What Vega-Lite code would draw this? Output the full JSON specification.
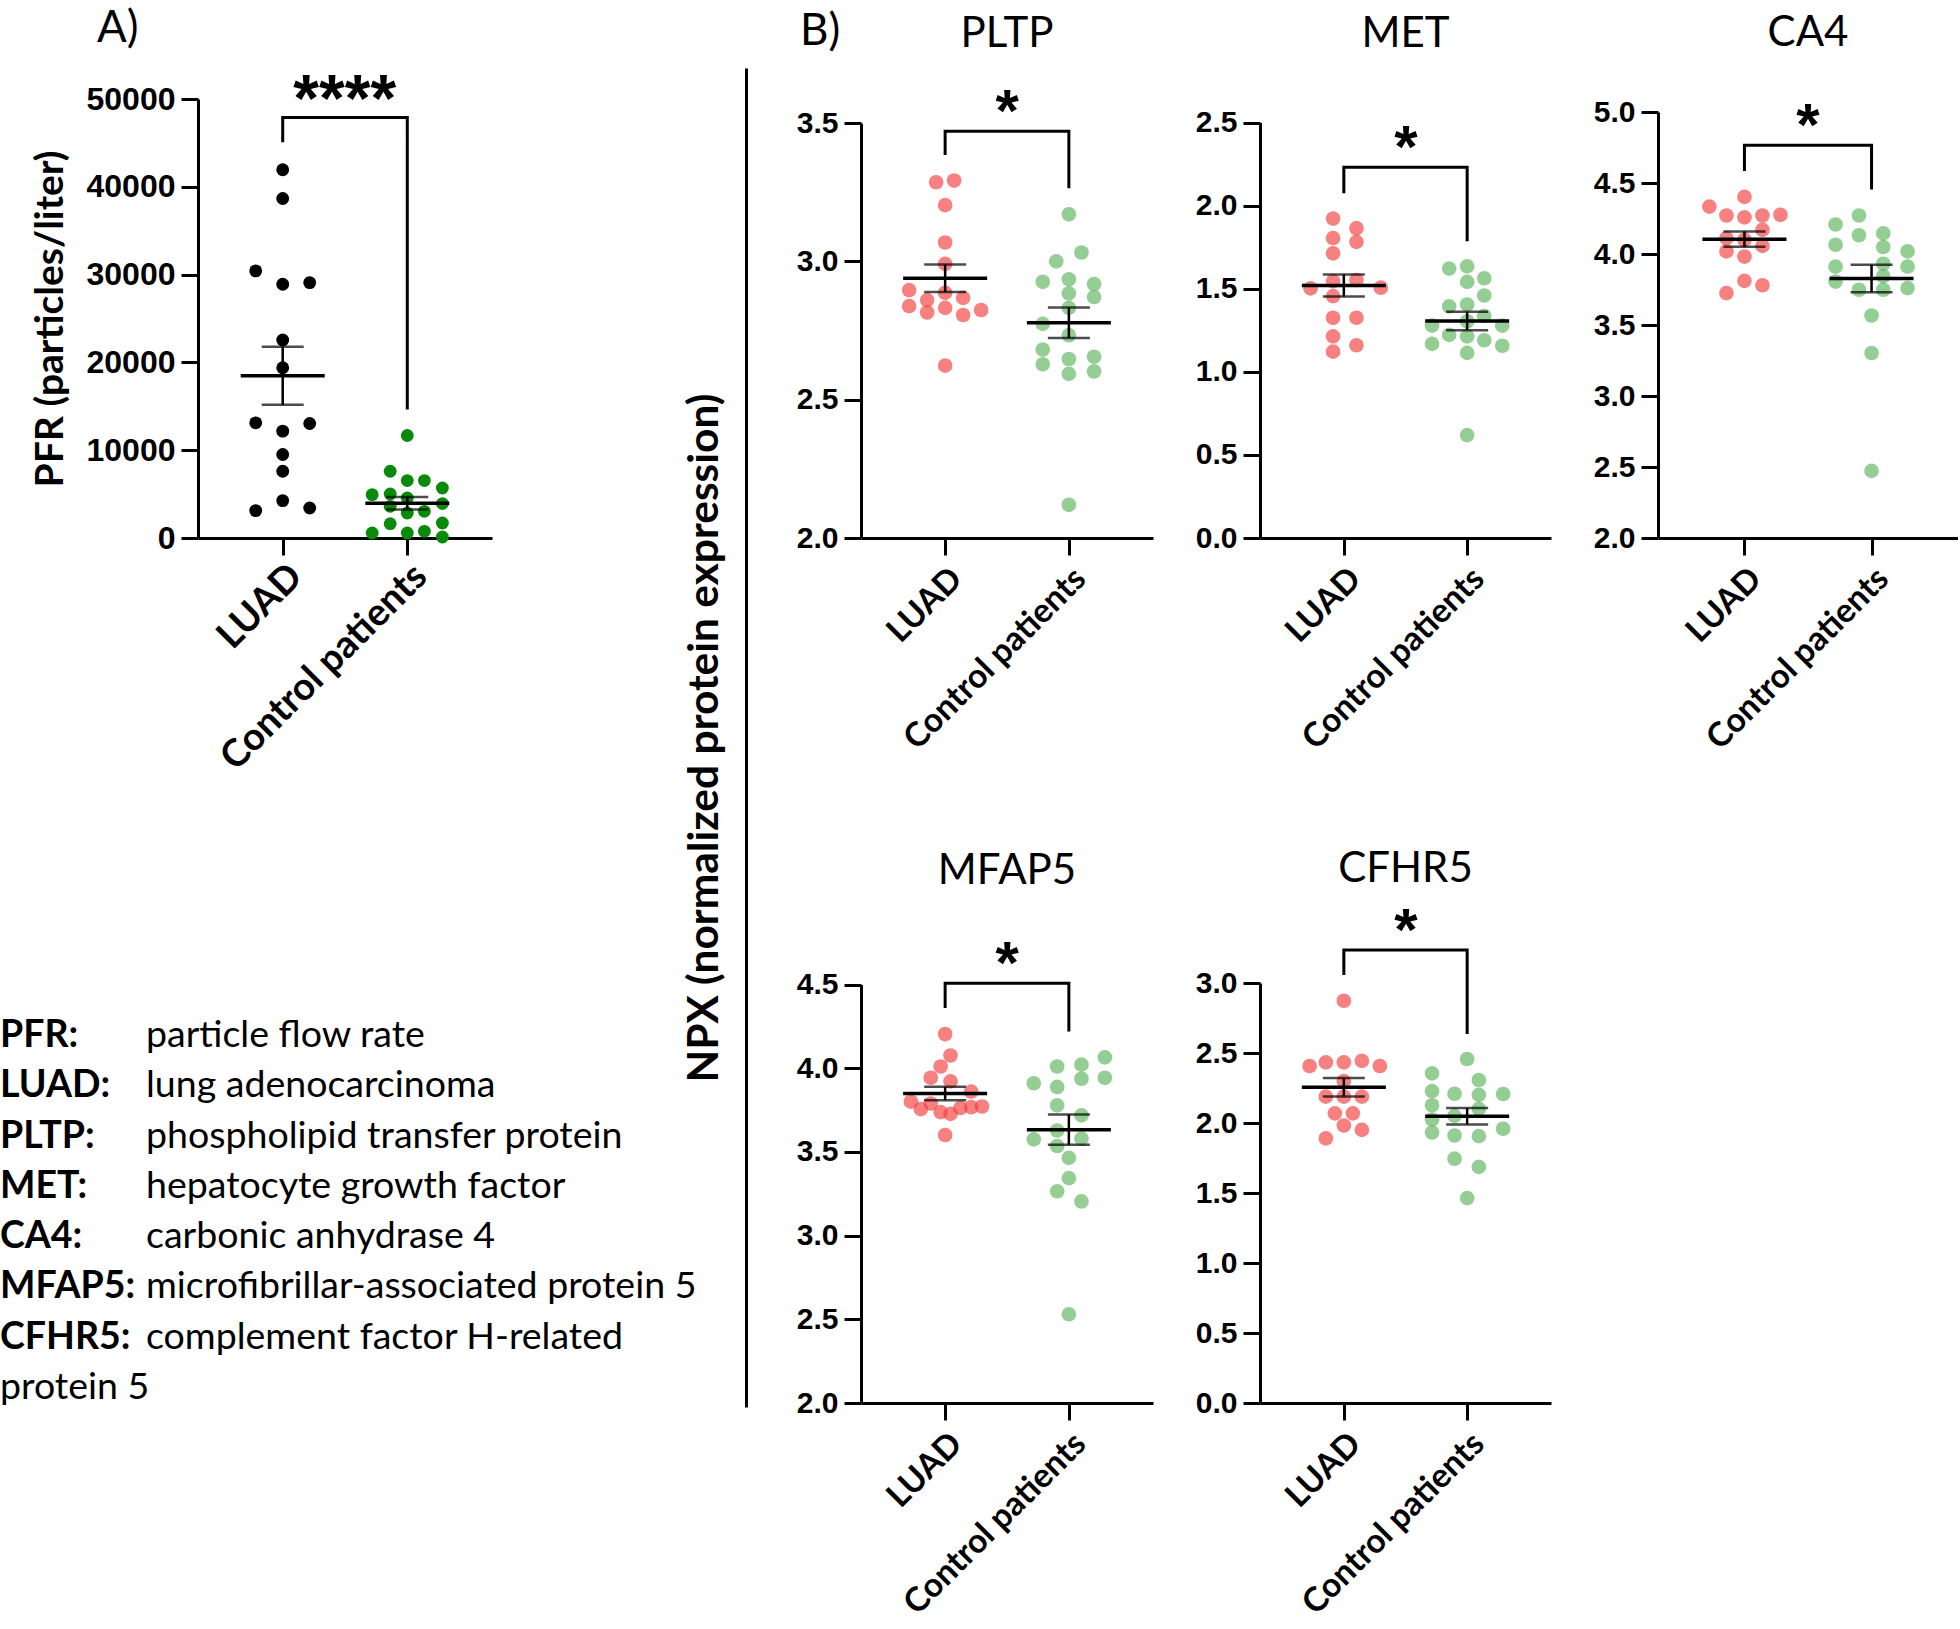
{
  "$schema": "https://vega.github.io/schema/vega-lite/v6.json",
  "padding": {"left": 0, "top": 7, "right": 0, "bottom": 0},
  "background": "white",
  "config": {
    "view": {"stroke": null},
    "axis": {"grid": false, "domainColor": "black", "tickColor": "black", "labelColor": "black", "titleColor": "black", "domainWidth": 3, "tickWidth": 3, "tickSize": 17},
    "title": {"font": "Lato", "fontSize": 42, "fontWeight": "normal", "color": "black", "frame": "group", "baseline": "alphabetic"}
  },
  "resolve": {"scale": {"color": "independent", "x": "independent", "y": "independent", "xOffset": "independent"}},
  "datasets": {
    "pts": [
      {"panel":"A","group":"LUAD","lane":0,"value":41940},{"panel":"A","group":"LUAD","lane":0,"value":38670},{"panel":"A","group":"LUAD","lane":-3,"value":30420},{"panel":"A","group":"LUAD","lane":0,"value":28900},{"panel":"A","group":"LUAD","lane":3,"value":29090},{"panel":"A","group":"LUAD","lane":0,"value":22550},{"panel":"A","group":"LUAD","lane":0,"value":19390},{"panel":"A","group":"LUAD","lane":-3,"value":13120},{"panel":"A","group":"LUAD","lane":0,"value":12170},{"panel":"A","group":"LUAD","lane":3,"value":13040},{"panel":"A","group":"LUAD","lane":0,"value":9510},{"panel":"A","group":"LUAD","lane":0,"value":7600},{"panel":"A","group":"LUAD","lane":0,"value":4260},{"panel":"A","group":"LUAD","lane":-3,"value":3120},{"panel":"A","group":"LUAD","lane":3,"value":3420},
      {"panel":"A","group":"Control patients","lane":0,"value":11670},{"panel":"A","group":"Control patients","lane":-1.9,"value":7600},{"panel":"A","group":"Control patients","lane":0,"value":6540},{"panel":"A","group":"Control patients","lane":1.9,"value":6540},{"panel":"A","group":"Control patients","lane":3.9,"value":5700},{"panel":"A","group":"Control patients","lane":-3.9,"value":4940},{"panel":"A","group":"Control patients","lane":-1.9,"value":5020},{"panel":"A","group":"Control patients","lane":0,"value":4560},{"panel":"A","group":"Control patients","lane":-1.9,"value":3610},{"panel":"A","group":"Control patients","lane":3.9,"value":3920},{"panel":"A","group":"Control patients","lane":0,"value":2850},{"panel":"A","group":"Control patients","lane":1.9,"value":3040},{"panel":"A","group":"Control patients","lane":-1.9,"value":1630},{"panel":"A","group":"Control patients","lane":3.9,"value":1710},{"panel":"A","group":"Control patients","lane":-3.9,"value":570},{"panel":"A","group":"Control patients","lane":0,"value":570},{"panel":"A","group":"Control patients","lane":1.9,"value":760},{"panel":"A","group":"Control patients","lane":3.9,"value":110},

      {"panel":"PLTP","group":"LUAD","lane":-1,"value":3.286},{"panel":"PLTP","group":"LUAD","lane":1,"value":3.292},{"panel":"PLTP","group":"LUAD","lane":0,"value":3.203},{"panel":"PLTP","group":"LUAD","lane":0,"value":3.068},{"panel":"PLTP","group":"LUAD","lane":0,"value":2.991},{"panel":"PLTP","group":"LUAD","lane":-4,"value":2.896},{"panel":"PLTP","group":"LUAD","lane":-2,"value":2.860},{"panel":"PLTP","group":"LUAD","lane":0,"value":2.886},{"panel":"PLTP","group":"LUAD","lane":2,"value":2.868},{"panel":"PLTP","group":"LUAD","lane":-4,"value":2.838},{"panel":"PLTP","group":"LUAD","lane":-2,"value":2.815},{"panel":"PLTP","group":"LUAD","lane":0,"value":2.832},{"panel":"PLTP","group":"LUAD","lane":2,"value":2.806},{"panel":"PLTP","group":"LUAD","lane":4,"value":2.824},{"panel":"PLTP","group":"LUAD","lane":0,"value":2.623},
      {"panel":"PLTP","group":"Control patients","lane":0,"value":3.170},{"panel":"PLTP","group":"Control patients","lane":1.4,"value":3.032},{"panel":"PLTP","group":"Control patients","lane":-1.4,"value":3.000},{"panel":"PLTP","group":"Control patients","lane":-2.9,"value":2.926},{"panel":"PLTP","group":"Control patients","lane":0,"value":2.935},{"panel":"PLTP","group":"Control patients","lane":2.8,"value":2.918},{"panel":"PLTP","group":"Control patients","lane":0,"value":2.884},{"panel":"PLTP","group":"Control patients","lane":2.8,"value":2.871},{"panel":"PLTP","group":"Control patients","lane":0,"value":2.832},{"panel":"PLTP","group":"Control patients","lane":-2.9,"value":2.774},{"panel":"PLTP","group":"Control patients","lane":0,"value":2.733},{"panel":"PLTP","group":"Control patients","lane":-2.9,"value":2.681},{"panel":"PLTP","group":"Control patients","lane":0,"value":2.647},{"panel":"PLTP","group":"Control patients","lane":2.8,"value":2.655},{"panel":"PLTP","group":"Control patients","lane":-2.9,"value":2.628},{"panel":"PLTP","group":"Control patients","lane":0,"value":2.593},{"panel":"PLTP","group":"Control patients","lane":2.8,"value":2.602},{"panel":"PLTP","group":"Control patients","lane":0,"value":2.120},

      {"panel":"MET","group":"LUAD","lane":-1.2,"value":1.922},{"panel":"MET","group":"LUAD","lane":1.4,"value":1.864},{"panel":"MET","group":"LUAD","lane":-1.2,"value":1.804},{"panel":"MET","group":"LUAD","lane":1.4,"value":1.782},{"panel":"MET","group":"LUAD","lane":-1.2,"value":1.713},{"panel":"MET","group":"LUAD","lane":-3.7,"value":1.502},{"panel":"MET","group":"LUAD","lane":-1.2,"value":1.545},{"panel":"MET","group":"LUAD","lane":1.4,"value":1.552},{"panel":"MET","group":"LUAD","lane":4.1,"value":1.506},{"panel":"MET","group":"LUAD","lane":-1.2,"value":1.455},{"panel":"MET","group":"LUAD","lane":-1.2,"value":1.325},{"panel":"MET","group":"LUAD","lane":1.4,"value":1.325},{"panel":"MET","group":"LUAD","lane":-1.2,"value":1.213},{"panel":"MET","group":"LUAD","lane":1.4,"value":1.160},{"panel":"MET","group":"LUAD","lane":-1.2,"value":1.121},
      {"panel":"MET","group":"Control patients","lane":-2,"value":1.621},{"panel":"MET","group":"Control patients","lane":0,"value":1.634},{"panel":"MET","group":"Control patients","lane":1.9,"value":1.563},{"panel":"MET","group":"Control patients","lane":0,"value":1.541},{"panel":"MET","group":"Control patients","lane":1.9,"value":1.459},{"panel":"MET","group":"Control patients","lane":-2,"value":1.394},{"panel":"MET","group":"Control patients","lane":0,"value":1.405},{"panel":"MET","group":"Control patients","lane":1.9,"value":1.336},{"panel":"MET","group":"Control patients","lane":-3.9,"value":1.278},{"panel":"MET","group":"Control patients","lane":0,"value":1.304},{"panel":"MET","group":"Control patients","lane":3.9,"value":1.278},{"panel":"MET","group":"Control patients","lane":-2,"value":1.222},{"panel":"MET","group":"Control patients","lane":0,"value":1.213},{"panel":"MET","group":"Control patients","lane":-3.9,"value":1.168},{"panel":"MET","group":"Control patients","lane":1.9,"value":1.190},{"panel":"MET","group":"Control patients","lane":3.9,"value":1.157},{"panel":"MET","group":"Control patients","lane":0,"value":1.114},{"panel":"MET","group":"Control patients","lane":0,"value":0.619},

      {"panel":"CA4","group":"LUAD","lane":0,"value":4.402},{"panel":"CA4","group":"LUAD","lane":-3.9,"value":4.334},{"panel":"CA4","group":"LUAD","lane":-2,"value":4.271},{"panel":"CA4","group":"LUAD","lane":0,"value":4.258},{"panel":"CA4","group":"LUAD","lane":2,"value":4.271},{"panel":"CA4","group":"LUAD","lane":4,"value":4.276},{"panel":"CA4","group":"LUAD","lane":2,"value":4.170},{"panel":"CA4","group":"LUAD","lane":-2,"value":4.112},{"panel":"CA4","group":"LUAD","lane":0,"value":4.100},{"panel":"CA4","group":"LUAD","lane":2,"value":4.057},{"panel":"CA4","group":"LUAD","lane":-2,"value":4.019},{"panel":"CA4","group":"LUAD","lane":0,"value":3.982},{"panel":"CA4","group":"LUAD","lane":0,"value":3.811},{"panel":"CA4","group":"LUAD","lane":2,"value":3.780},{"panel":"CA4","group":"LUAD","lane":-2,"value":3.725},
      {"panel":"CA4","group":"Control patients","lane":-1.4,"value":4.271},{"panel":"CA4","group":"Control patients","lane":-4,"value":4.208},{"panel":"CA4","group":"Control patients","lane":-1.4,"value":4.132},{"panel":"CA4","group":"Control patients","lane":1.3,"value":4.145},{"panel":"CA4","group":"Control patients","lane":-4,"value":4.065},{"panel":"CA4","group":"Control patients","lane":1.3,"value":4.049},{"panel":"CA4","group":"Control patients","lane":4,"value":4.019},{"panel":"CA4","group":"Control patients","lane":-4,"value":3.911},{"panel":"CA4","group":"Control patients","lane":1.3,"value":3.931},{"panel":"CA4","group":"Control patients","lane":4,"value":3.911},{"panel":"CA4","group":"Control patients","lane":1.3,"value":3.843},{"panel":"CA4","group":"Control patients","lane":-4,"value":3.806},{"panel":"CA4","group":"Control patients","lane":-1.4,"value":3.748},{"panel":"CA4","group":"Control patients","lane":1.3,"value":3.748},{"panel":"CA4","group":"Control patients","lane":4,"value":3.760},{"panel":"CA4","group":"Control patients","lane":0,"value":3.567},{"panel":"CA4","group":"Control patients","lane":0,"value":3.303},{"panel":"CA4","group":"Control patients","lane":0,"value":2.473},

      {"panel":"MFAP5","group":"LUAD","lane":0,"value":4.204},{"panel":"MFAP5","group":"LUAD","lane":0.6,"value":4.076},{"panel":"MFAP5","group":"LUAD","lane":-0.5,"value":4.010},{"panel":"MFAP5","group":"LUAD","lane":-1.6,"value":3.943},{"panel":"MFAP5","group":"LUAD","lane":0.6,"value":3.921},{"panel":"MFAP5","group":"LUAD","lane":2.9,"value":3.860},{"panel":"MFAP5","group":"LUAD","lane":-3.8,"value":3.800},{"panel":"MFAP5","group":"LUAD","lane":-1.6,"value":3.789},{"panel":"MFAP5","group":"LUAD","lane":-2.7,"value":3.756},{"panel":"MFAP5","group":"LUAD","lane":-0.5,"value":3.738},{"panel":"MFAP5","group":"LUAD","lane":0.6,"value":3.727},{"panel":"MFAP5","group":"LUAD","lane":1.7,"value":3.762},{"panel":"MFAP5","group":"LUAD","lane":2.9,"value":3.767},{"panel":"MFAP5","group":"LUAD","lane":4.1,"value":3.771},{"panel":"MFAP5","group":"LUAD","lane":0,"value":3.601},
      {"panel":"MFAP5","group":"Control patients","lane":4,"value":4.065},{"panel":"MFAP5","group":"Control patients","lane":-1.3,"value":4.010},{"panel":"MFAP5","group":"Control patients","lane":1.4,"value":4.021},{"panel":"MFAP5","group":"Control patients","lane":1.4,"value":3.937},{"panel":"MFAP5","group":"Control patients","lane":4,"value":3.943},{"panel":"MFAP5","group":"Control patients","lane":-3.9,"value":3.910},{"panel":"MFAP5","group":"Control patients","lane":-1.3,"value":3.888},{"panel":"MFAP5","group":"Control patients","lane":-1.3,"value":3.778},{"panel":"MFAP5","group":"Control patients","lane":1.4,"value":3.718},{"panel":"MFAP5","group":"Control patients","lane":-1.3,"value":3.628},{"panel":"MFAP5","group":"Control patients","lane":-3.9,"value":3.575},{"panel":"MFAP5","group":"Control patients","lane":1.4,"value":3.579},{"panel":"MFAP5","group":"Control patients","lane":-1.3,"value":3.535},{"panel":"MFAP5","group":"Control patients","lane":0,"value":3.464},{"panel":"MFAP5","group":"Control patients","lane":0,"value":3.343},{"panel":"MFAP5","group":"Control patients","lane":-1.3,"value":3.265},{"panel":"MFAP5","group":"Control patients","lane":1.4,"value":3.204},{"panel":"MFAP5","group":"Control patients","lane":0,"value":2.530},

      {"panel":"CFHR5","group":"LUAD","lane":0,"value":2.873},{"panel":"CFHR5","group":"LUAD","lane":-2,"value":2.433},{"panel":"CFHR5","group":"LUAD","lane":0,"value":2.433},{"panel":"CFHR5","group":"LUAD","lane":2,"value":2.444},{"panel":"CFHR5","group":"LUAD","lane":-3.8,"value":2.407},{"panel":"CFHR5","group":"LUAD","lane":4,"value":2.407},{"panel":"CFHR5","group":"LUAD","lane":0,"value":2.299},{"panel":"CFHR5","group":"LUAD","lane":-2,"value":2.188},{"panel":"CFHR5","group":"LUAD","lane":0,"value":2.188},{"panel":"CFHR5","group":"LUAD","lane":2,"value":2.188},{"panel":"CFHR5","group":"LUAD","lane":-1,"value":2.069},{"panel":"CFHR5","group":"LUAD","lane":1,"value":2.069},{"panel":"CFHR5","group":"LUAD","lane":0,"value":1.982},{"panel":"CFHR5","group":"LUAD","lane":2,"value":1.951},{"panel":"CFHR5","group":"LUAD","lane":-2,"value":1.890},
      {"panel":"CFHR5","group":"Control patients","lane":0,"value":2.457},{"panel":"CFHR5","group":"Control patients","lane":-3.9,"value":2.354},{"panel":"CFHR5","group":"Control patients","lane":1.3,"value":2.307},{"panel":"CFHR5","group":"Control patients","lane":-3.9,"value":2.228},{"panel":"CFHR5","group":"Control patients","lane":-1.4,"value":2.209},{"panel":"CFHR5","group":"Control patients","lane":1.3,"value":2.201},{"panel":"CFHR5","group":"Control patients","lane":4,"value":2.207},{"panel":"CFHR5","group":"Control patients","lane":-3.9,"value":2.127},{"panel":"CFHR5","group":"Control patients","lane":1.3,"value":2.101},{"panel":"CFHR5","group":"Control patients","lane":-1.4,"value":2.051},{"panel":"CFHR5","group":"Control patients","lane":-3.9,"value":2.025},{"panel":"CFHR5","group":"Control patients","lane":4,"value":1.959},{"panel":"CFHR5","group":"Control patients","lane":-3.9,"value":1.932},{"panel":"CFHR5","group":"Control patients","lane":-1.4,"value":1.911},{"panel":"CFHR5","group":"Control patients","lane":1.3,"value":1.906},{"panel":"CFHR5","group":"Control patients","lane":-1.4,"value":1.745},{"panel":"CFHR5","group":"Control patients","lane":1.3,"value":1.687},{"panel":"CFHR5","group":"Control patients","lane":0,"value":1.463}
    ],
    "brk": [
      {"panel":"A","group":"LUAD","value":45060,"k":1},{"panel":"A","group":"LUAD","value":47900,"k":2},{"panel":"A","group":"Control patients","value":47900,"k":3},{"panel":"A","group":"Control patients","value":14640,"k":4},
      {"panel":"PLTP","group":"LUAD","value":3.384,"k":1},{"panel":"PLTP","group":"LUAD","value":3.470,"k":2},{"panel":"PLTP","group":"Control patients","value":3.470,"k":3},{"panel":"PLTP","group":"Control patients","value":3.264,"k":4},
      {"panel":"MET","group":"LUAD","value":2.075,"k":1},{"panel":"MET","group":"LUAD","value":2.231,"k":2},{"panel":"MET","group":"Control patients","value":2.231,"k":3},{"panel":"MET","group":"Control patients","value":1.785,"k":4},
      {"panel":"CA4","group":"LUAD","value":4.585,"k":1},{"panel":"CA4","group":"LUAD","value":4.766,"k":2},{"panel":"CA4","group":"Control patients","value":4.766,"k":3},{"panel":"CA4","group":"Control patients","value":4.454,"k":4},
      {"panel":"MFAP5","group":"LUAD","value":4.359,"k":1},{"panel":"MFAP5","group":"LUAD","value":4.507,"k":2},{"panel":"MFAP5","group":"Control patients","value":4.507,"k":3},{"panel":"MFAP5","group":"Control patients","value":4.219,"k":4},
      {"panel":"CFHR5","group":"LUAD","value":3.058,"k":1},{"panel":"CFHR5","group":"LUAD","value":3.235,"k":2},{"panel":"CFHR5","group":"Control patients","value":3.235,"k":3},{"panel":"CFHR5","group":"Control patients","value":2.636,"k":4}
    ],
    "sig": [
      {"panel":"A","group":"LUAD","value":47900,"label":"****"},
      {"panel":"PLTP","group":"LUAD","value":3.470,"label":"*"},
      {"panel":"MET","group":"LUAD","value":2.231,"label":"*"},
      {"panel":"CA4","group":"LUAD","value":4.766,"label":"*"},
      {"panel":"MFAP5","group":"LUAD","value":4.507,"label":"*"},
      {"panel":"CFHR5","group":"LUAD","value":3.235,"label":"*"}
    ],
    "glossary": [
      {"line":1,"col":"left","kind":"term","text":"PFR:"},{"line":1,"col":"right","kind":"definition","text":"particle flow rate"},
      {"line":2,"col":"left","kind":"term","text":"LUAD:"},{"line":2,"col":"right","kind":"definition","text":"lung adenocarcinoma"},
      {"line":3,"col":"left","kind":"term","text":"PLTP:"},{"line":3,"col":"right","kind":"definition","text":"phospholipid transfer protein"},
      {"line":4,"col":"left","kind":"term","text":"MET:"},{"line":4,"col":"right","kind":"definition","text":"hepatocyte growth factor"},
      {"line":5,"col":"left","kind":"term","text":"CA4:"},{"line":5,"col":"right","kind":"definition","text":"carbonic anhydrase 4"},
      {"line":6,"col":"left","kind":"term","text":"MFAP5:"},{"line":6,"col":"right","kind":"definition","text":"microfibrillar-associated protein 5"},
      {"line":7,"col":"left","kind":"term","text":"CFHR5:"},{"line":7,"col":"right","kind":"definition","text":"complement factor H-related"},
      {"line":8,"col":"left","kind":"definition","text":"protein 5"}
    ]
  },
  "columns": 5,
  "align": "each",
  "bounds": "flush",
  "spacing": {"row": 445, "column": 107},
  "concat": [
    {
      "width": 294, "height": 439,
      "title": {"text": "A)", "anchor": "start", "dx": -101, "offset": 16.7, "fontSize": 44},
      "encoding": {
        "x": {"field": "group", "type": "nominal", "scale": {"type": "point", "domain": ["LUAD", "Control patients"], "padding": 0.68},
              "axis": {"title": null, "labelAngle": -45, "labelAlign": "right", "labelBaseline": "top", "labelFont": "Lato", "labelFontWeight": "bold", "labelFontSize": 38, "labelPadding": 2, "labelLimit": 600, "labelOverlap": false}},
        "y": {"field": "value", "type": "quantitative", "scale": {"domain": [0, 50000], "nice": false, "zero": false},
              "axis": {"title": "PFR (particles/liter)", "values": [0, 10000, 20000, 30000, 40000, 50000], "format": "d", "labelFont": "Liberation Sans", "labelFontWeight": "bold", "labelFontSize": 32, "labelPadding": 6, "titleFont": "Lato", "titleFontWeight": "bold", "titleFontSize": 39, "titlePadding": 16}}
      },
      "layer": [
        {"data": {"name": "pts"}, "transform": [{"filter": "datum.panel === 'A'"}],
         "mark": {"type": "circle", "size": 165, "opacity": 1},
         "encoding": {"xOffset": {"field": "lane", "type": "quantitative", "scale": {"domain": [-4, 4], "range": [-36, 36]}},
                      "color": {"field": "group", "type": "nominal", "scale": {"domain": ["LUAD", "Control patients"], "range": ["#000000", "#0a8a0a"]}, "legend": null}}},
        {"data": {"name": "pts"}, "transform": [{"filter": "datum.panel === 'A'"}],
         "mark": {"type": "errorbar", "extent": "stderr", "color": "black", "thickness": 2.5, "ticks": {"size": 42, "color": "black"}}},
        {"data": {"name": "pts"}, "transform": [{"filter": "datum.panel === 'A'"}, {"aggregate": [{"op": "mean", "field": "value", "as": "value"}], "groupby": ["group"]}],
         "mark": {"type": "tick", "color": "black", "size": 84, "thickness": 3.5, "opacity": 1}},
        {"data": {"name": "brk"}, "transform": [{"filter": "datum.panel === 'A'"}],
         "mark": {"type": "line", "color": "black", "strokeWidth": 3}, "encoding": {"order": {"field": "k", "type": "quantitative"}}},
        {"data": {"name": "sig"}, "transform": [{"filter": "datum.panel === 'A'"}],
         "mark": {"type": "text", "font": "Liberation Sans", "fontWeight": "bold", "fontSize": 66, "dx": 62, "dy": 3.5, "baseline": "alphabetic", "align": "center", "color": "black"},
         "encoding": {"text": {"field": "label"}}}
      ]
    },
    {
      "width": 8, "height": 439,
      "data": {"values": [{"npx": 0.5}]},
      "title": {"text": "B)", "anchor": "start", "dx": 54, "offset": 45.5, "fontSize": 44},
      "mark": {"type": "point", "opacity": 0},
      "encoding": {
        "y": {"field": "npx", "type": "quantitative", "scale": {"domain": [0, 1], "range": [1308, -31], "nice": false, "zero": false},
              "axis": {"title": "NPX (normalized protein expression)", "ticks": false, "labels": false, "domainWidth": 3, "titleFont": "Lato", "titleFontWeight": "bold", "titleFontSize": 42.5, "titlePadding": 20}}
      }
    },
    {
      "width": 292, "height": 439,
      "title": {"text": "PLTP", "offset": 27},
      "encoding": {
        "x": {"field": "group", "type": "nominal", "scale": {"type": "point", "domain": ["LUAD", "Control patients"], "padding": 0.68},
              "axis": {"title": null, "labelAngle": -45, "labelAlign": "right", "labelBaseline": "top", "labelFont": "Lato", "labelFontWeight": "bold", "labelFontSize": 33.5, "labelPadding": 7, "labelLimit": 600, "labelOverlap": false}},
        "y": {"field": "value", "type": "quantitative", "scale": {"domain": [2, 3.5], "range": [439, 24], "nice": false, "zero": false},
              "axis": {"title": null, "values": [2, 2.5, 3, 3.5], "format": ".1f", "labelFont": "Liberation Sans", "labelFontWeight": "bold", "labelFontSize": 30, "labelPadding": 6}}
      },
      "layer": [
        {"data": {"name": "pts"}, "transform": [{"filter": "datum.panel === 'PLTP'"}],
         "mark": {"type": "circle", "size": 215, "opacity": 0.65},
         "encoding": {"xOffset": {"field": "lane", "type": "quantitative", "scale": {"domain": [-4, 4], "range": [-36, 36]}},
                      "color": {"field": "group", "type": "nominal", "scale": {"domain": ["LUAD", "Control patients"], "range": ["#f23c3c", "#5ab45a"]}, "legend": null}}},
        {"data": {"name": "pts"}, "transform": [{"filter": "datum.panel === 'PLTP'"}],
         "mark": {"type": "errorbar", "extent": "stderr", "color": "black", "thickness": 2.5, "ticks": {"size": 42, "color": "black"}}},
        {"data": {"name": "pts"}, "transform": [{"filter": "datum.panel === 'PLTP'"}, {"aggregate": [{"op": "mean", "field": "value", "as": "value"}], "groupby": ["group"]}],
         "mark": {"type": "tick", "color": "black", "size": 84, "thickness": 3.5, "opacity": 1}},
        {"data": {"name": "brk"}, "transform": [{"filter": "datum.panel === 'PLTP'"}],
         "mark": {"type": "line", "color": "black", "strokeWidth": 3}, "encoding": {"order": {"field": "k", "type": "quantitative"}}},
        {"data": {"name": "sig"}, "transform": [{"filter": "datum.panel === 'PLTP'"}],
         "mark": {"type": "text", "font": "Liberation Sans", "fontWeight": "bold", "fontSize": 60, "dx": 62, "dy": 0, "baseline": "alphabetic", "align": "center", "color": "black"},
         "encoding": {"text": {"field": "label"}}}
      ]
    },
    {
      "width": 291, "height": 439,
      "title": {"text": "MET", "offset": 43.5},
      "encoding": {
        "x": {"field": "group", "type": "nominal", "scale": {"type": "point", "domain": ["LUAD", "Control patients"], "padding": 0.68},
              "axis": {"title": null, "labelAngle": -45, "labelAlign": "right", "labelBaseline": "top", "labelFont": "Lato", "labelFontWeight": "bold", "labelFontSize": 33.5, "labelPadding": 7, "labelLimit": 600, "labelOverlap": false}},
        "y": {"field": "value", "type": "quantitative", "scale": {"domain": [0, 2.5], "range": [439, 23.5], "nice": false, "zero": false},
              "axis": {"title": null, "values": [0, 0.5, 1, 1.5, 2, 2.5], "format": ".1f", "labelFont": "Liberation Sans", "labelFontWeight": "bold", "labelFontSize": 30, "labelPadding": 6}}
      },
      "layer": [
        {"data": {"name": "pts"}, "transform": [{"filter": "datum.panel === 'MET'"}],
         "mark": {"type": "circle", "size": 215, "opacity": 0.65},
         "encoding": {"xOffset": {"field": "lane", "type": "quantitative", "scale": {"domain": [-4, 4], "range": [-36, 36]}},
                      "color": {"field": "group", "type": "nominal", "scale": {"domain": ["LUAD", "Control patients"], "range": ["#f23c3c", "#5ab45a"]}, "legend": null}}},
        {"data": {"name": "pts"}, "transform": [{"filter": "datum.panel === 'MET'"}],
         "mark": {"type": "errorbar", "extent": "stderr", "color": "black", "thickness": 2.5, "ticks": {"size": 42, "color": "black"}}},
        {"data": {"name": "pts"}, "transform": [{"filter": "datum.panel === 'MET'"}, {"aggregate": [{"op": "mean", "field": "value", "as": "value"}], "groupby": ["group"]}],
         "mark": {"type": "tick", "color": "black", "size": 84, "thickness": 3.5, "opacity": 1}},
        {"data": {"name": "brk"}, "transform": [{"filter": "datum.panel === 'MET'"}],
         "mark": {"type": "line", "color": "black", "strokeWidth": 3}, "encoding": {"order": {"field": "k", "type": "quantitative"}}},
        {"data": {"name": "sig"}, "transform": [{"filter": "datum.panel === 'MET'"}],
         "mark": {"type": "text", "font": "Liberation Sans", "fontWeight": "bold", "fontSize": 60, "dx": 62, "dy": 0, "baseline": "alphabetic", "align": "center", "color": "black"},
         "encoding": {"text": {"field": "label"}}}
      ]
    },
    {
      "width": 300, "height": 439,
      "title": {"text": "CA4", "offset": 42},
      "encoding": {
        "x": {"field": "group", "type": "nominal", "scale": {"type": "point", "domain": ["LUAD", "Control patients"], "padding": 0.68},
              "axis": {"title": null, "labelAngle": -45, "labelAlign": "right", "labelBaseline": "top", "labelFont": "Lato", "labelFontWeight": "bold", "labelFontSize": 33.5, "labelPadding": 7, "labelLimit": 600, "labelOverlap": false}},
        "y": {"field": "value", "type": "quantitative", "scale": {"domain": [2, 5], "range": [439, 13], "nice": false, "zero": false},
              "axis": {"title": null, "values": [2, 2.5, 3, 3.5, 4, 4.5, 5], "format": ".1f", "labelFont": "Liberation Sans", "labelFontWeight": "bold", "labelFontSize": 30, "labelPadding": 6}}
      },
      "layer": [
        {"data": {"name": "pts"}, "transform": [{"filter": "datum.panel === 'CA4'"}],
         "mark": {"type": "circle", "size": 215, "opacity": 0.65},
         "encoding": {"xOffset": {"field": "lane", "type": "quantitative", "scale": {"domain": [-4, 4], "range": [-36, 36]}},
                      "color": {"field": "group", "type": "nominal", "scale": {"domain": ["LUAD", "Control patients"], "range": ["#f23c3c", "#5ab45a"]}, "legend": null}}},
        {"data": {"name": "pts"}, "transform": [{"filter": "datum.panel === 'CA4'"}],
         "mark": {"type": "errorbar", "extent": "stderr", "color": "black", "thickness": 2.5, "ticks": {"size": 42, "color": "black"}}},
        {"data": {"name": "pts"}, "transform": [{"filter": "datum.panel === 'CA4'"}, {"aggregate": [{"op": "mean", "field": "value", "as": "value"}], "groupby": ["group"]}],
         "mark": {"type": "tick", "color": "black", "size": 84, "thickness": 3.5, "opacity": 1}},
        {"data": {"name": "brk"}, "transform": [{"filter": "datum.panel === 'CA4'"}],
         "mark": {"type": "line", "color": "black", "strokeWidth": 3}, "encoding": {"order": {"field": "k", "type": "quantitative"}}},
        {"data": {"name": "sig"}, "transform": [{"filter": "datum.panel === 'CA4'"}],
         "mark": {"type": "text", "font": "Liberation Sans", "fontWeight": "bold", "fontSize": 60, "dx": 63.5, "dy": 0, "baseline": "alphabetic", "align": "center", "color": "black"},
         "encoding": {"text": {"field": "label"}}}
      ]
    },
    {
      "width": 441, "height": 420,
      "data": {"name": "glossary"},
      "encoding": {
        "x": {"field": "col", "type": "nominal", "scale": {"type": "point", "domain": ["left", "right"], "range": [-198, -52], "padding": 0}, "axis": null},
        "y": {"field": "line", "type": "ordinal", "scale": {"type": "point", "domain": [1, 2, 3, 4, 5, 6, 7, 8], "range": [53, 405], "padding": 0}, "axis": null},
        "text": {"field": "text"}
      },
      "layer": [
        {"transform": [{"filter": "datum.kind === 'term'"}], "mark": {"type": "text", "align": "left", "baseline": "middle", "font": "Lato", "fontWeight": "bold", "fontSize": 37.5, "color": "black"}},
        {"transform": [{"filter": "datum.kind === 'definition'"}], "mark": {"type": "text", "align": "left", "baseline": "middle", "font": "Lato", "fontWeight": "normal", "fontSize": 37.5, "color": "black"}}
      ]
    },
    {
      "width": 8, "height": 10,
      "data": {"values": []},
      "mark": "point"
    },
    {
      "width": 292, "height": 420,
      "title": {"text": "MFAP5", "offset": 42},
      "encoding": {
        "x": {"field": "group", "type": "nominal", "scale": {"type": "point", "domain": ["LUAD", "Control patients"], "padding": 0.68},
              "axis": {"title": null, "labelAngle": -45, "labelAlign": "right", "labelBaseline": "top", "labelFont": "Lato", "labelFontWeight": "bold", "labelFontSize": 33.5, "labelPadding": 7, "labelLimit": 600, "labelOverlap": false}},
        "y": {"field": "value", "type": "quantitative", "scale": {"domain": [2, 4.5], "range": [420, 1.5], "nice": false, "zero": false},
              "axis": {"title": null, "values": [2, 2.5, 3, 3.5, 4, 4.5], "format": ".1f", "labelFont": "Liberation Sans", "labelFontWeight": "bold", "labelFontSize": 30, "labelPadding": 6}}
      },
      "layer": [
        {"data": {"name": "pts"}, "transform": [{"filter": "datum.panel === 'MFAP5'"}],
         "mark": {"type": "circle", "size": 215, "opacity": 0.65},
         "encoding": {"xOffset": {"field": "lane", "type": "quantitative", "scale": {"domain": [-4, 4], "range": [-36, 36]}},
                      "color": {"field": "group", "type": "nominal", "scale": {"domain": ["LUAD", "Control patients"], "range": ["#f23c3c", "#5ab45a"]}, "legend": null}}},
        {"data": {"name": "pts"}, "transform": [{"filter": "datum.panel === 'MFAP5'"}],
         "mark": {"type": "errorbar", "extent": "stderr", "color": "black", "thickness": 2.5, "ticks": {"size": 42, "color": "black"}}},
        {"data": {"name": "pts"}, "transform": [{"filter": "datum.panel === 'MFAP5'"}, {"aggregate": [{"op": "mean", "field": "value", "as": "value"}], "groupby": ["group"]}],
         "mark": {"type": "tick", "color": "black", "size": 84, "thickness": 3.5, "opacity": 1}},
        {"data": {"name": "brk"}, "transform": [{"filter": "datum.panel === 'MFAP5'"}],
         "mark": {"type": "line", "color": "black", "strokeWidth": 3}, "encoding": {"order": {"field": "k", "type": "quantitative"}}},
        {"data": {"name": "sig"}, "transform": [{"filter": "datum.panel === 'MFAP5'"}],
         "mark": {"type": "text", "font": "Liberation Sans", "fontWeight": "bold", "fontSize": 60, "dx": 62, "dy": 0, "baseline": "alphabetic", "align": "center", "color": "black"},
         "encoding": {"text": {"field": "label"}}}
      ]
    },
    {
      "width": 291, "height": 420,
      "title": {"text": "CFHR5", "offset": 11},
      "encoding": {
        "x": {"field": "group", "type": "nominal", "scale": {"type": "point", "domain": ["LUAD", "Control patients"], "padding": 0.68},
              "axis": {"title": null, "labelAngle": -45, "labelAlign": "right", "labelBaseline": "top", "labelFont": "Lato", "labelFontWeight": "bold", "labelFontSize": 33.5, "labelPadding": 7, "labelLimit": 600, "labelOverlap": false}},
        "y": {"field": "value", "type": "quantitative", "scale": {"domain": [0, 3], "nice": false, "zero": false},
              "axis": {"title": null, "values": [0, 0.5, 1, 1.5, 2, 2.5, 3], "format": ".1f", "labelFont": "Liberation Sans", "labelFontWeight": "bold", "labelFontSize": 30, "labelPadding": 6}}
      },
      "layer": [
        {"data": {"name": "pts"}, "transform": [{"filter": "datum.panel === 'CFHR5'"}],
         "mark": {"type": "circle", "size": 215, "opacity": 0.65},
         "encoding": {"xOffset": {"field": "lane", "type": "quantitative", "scale": {"domain": [-4, 4], "range": [-36, 36]}},
                      "color": {"field": "group", "type": "nominal", "scale": {"domain": ["LUAD", "Control patients"], "range": ["#f23c3c", "#5ab45a"]}, "legend": null}}},
        {"data": {"name": "pts"}, "transform": [{"filter": "datum.panel === 'CFHR5'"}],
         "mark": {"type": "errorbar", "extent": "stderr", "color": "black", "thickness": 2.5, "ticks": {"size": 42, "color": "black"}}},
        {"data": {"name": "pts"}, "transform": [{"filter": "datum.panel === 'CFHR5'"}, {"aggregate": [{"op": "mean", "field": "value", "as": "value"}], "groupby": ["group"]}],
         "mark": {"type": "tick", "color": "black", "size": 84, "thickness": 3.5, "opacity": 1}},
        {"data": {"name": "brk"}, "transform": [{"filter": "datum.panel === 'CFHR5'"}],
         "mark": {"type": "line", "color": "black", "strokeWidth": 3}, "encoding": {"order": {"field": "k", "type": "quantitative"}}},
        {"data": {"name": "sig"}, "transform": [{"filter": "datum.panel === 'CFHR5'"}],
         "mark": {"type": "text", "font": "Liberation Sans", "fontWeight": "bold", "fontSize": 60, "dx": 62, "dy": 0, "baseline": "alphabetic", "align": "center", "color": "black"},
         "encoding": {"text": {"field": "label"}}}
      ]
    }
  ]
}
